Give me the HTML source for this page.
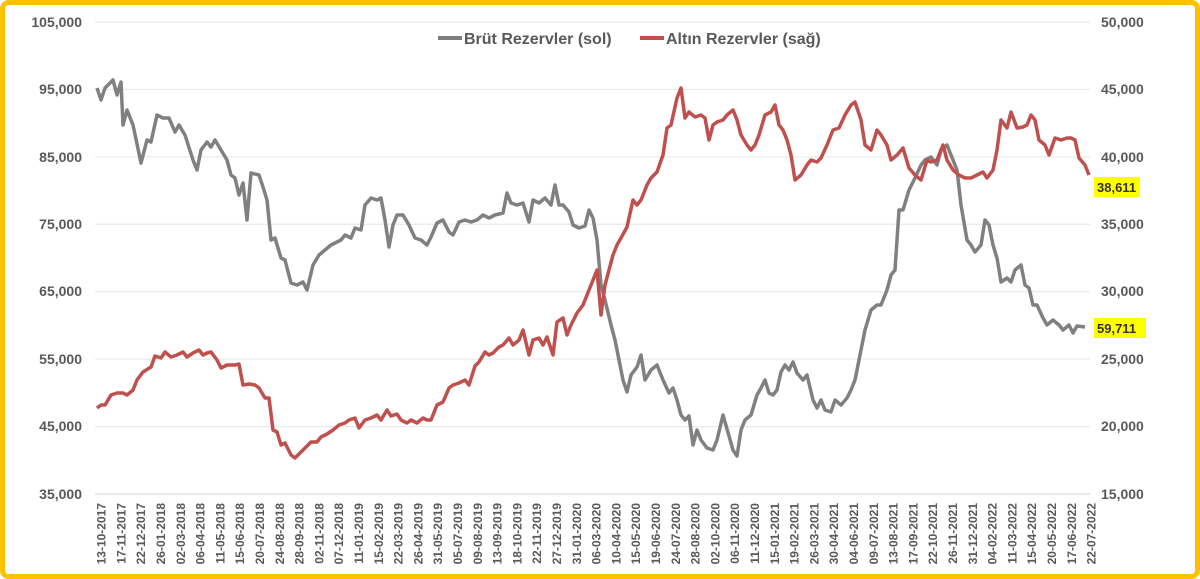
<!DOCTYPE html>
<html><head><meta charset="utf-8"><style>
html,body{margin:0;padding:0;background:#fff;}
svg{display:block;font-family:"Liberation Sans",sans-serif;}
</style></head><body>
<svg width="1200" height="579" viewBox="0 0 1200 579">
<rect x="2.5" y="2.5" width="1195" height="574" rx="6" fill="#fff" stroke="#FFC000" stroke-width="5"/>
<g stroke="#e6e6e6" stroke-width="1">
<line x1="95" x2="1090" y1="22" y2="22"/><line x1="95" x2="1090" y1="89.4" y2="89.4"/>
<line x1="95" x2="1090" y1="156.9" y2="156.9"/><line x1="95" x2="1090" y1="224.3" y2="224.3"/>
<line x1="95" x2="1090" y1="291.7" y2="291.7"/><line x1="95" x2="1090" y1="359.1" y2="359.1"/>
<line x1="95" x2="1090" y1="426.6" y2="426.6"/></g>
<line x1="95" x2="1090" y1="494" y2="494" stroke="#d0d0d0"/>
<g font-size="14" font-weight="bold" fill="#595959" text-anchor="end">
<text x="82" y="27">105,000</text><text x="82" y="94">95,000</text><text x="82" y="162">85,000</text>
<text x="82" y="229">75,000</text><text x="82" y="296">65,000</text><text x="82" y="364">55,000</text>
<text x="82" y="431">45,000</text><text x="82" y="499">35,000</text></g>
<g font-size="14" font-weight="bold" fill="#595959" text-anchor="start">
<text x="1101" y="27">50,000</text><text x="1101" y="94">45,000</text><text x="1101" y="162">40,000</text>
<text x="1101" y="229">35,000</text><text x="1101" y="296">30,000</text><text x="1101" y="364">25,000</text>
<text x="1101" y="431">20,000</text><text x="1101" y="499">15,000</text></g>
<g font-size="12" font-weight="bold" fill="#595959" text-anchor="end">
<text transform="translate(105.6,503) rotate(-90)">13-10-2017</text>
<text transform="translate(125.4,503) rotate(-90)">17-11-2017</text>
<text transform="translate(145.2,503) rotate(-90)">22-12-2017</text>
<text transform="translate(165,503) rotate(-90)">26-01-2018</text>
<text transform="translate(184.8,503) rotate(-90)">02-03-2018</text>
<text transform="translate(204.6,503) rotate(-90)">06-04-2018</text>
<text transform="translate(224.4,503) rotate(-90)">11-05-2018</text>
<text transform="translate(244.2,503) rotate(-90)">15-06-2018</text>
<text transform="translate(264,503) rotate(-90)">20-07-2018</text>
<text transform="translate(283.8,503) rotate(-90)">24-08-2018</text>
<text transform="translate(303.6,503) rotate(-90)">28-09-2018</text>
<text transform="translate(323.4,503) rotate(-90)">02-11-2018</text>
<text transform="translate(343.2,503) rotate(-90)">07-12-2018</text>
<text transform="translate(363,503) rotate(-90)">11-01-2019</text>
<text transform="translate(382.8,503) rotate(-90)">15-02-2019</text>
<text transform="translate(402.6,503) rotate(-90)">22-03-2019</text>
<text transform="translate(422.4,503) rotate(-90)">26-04-2019</text>
<text transform="translate(442.2,503) rotate(-90)">31-05-2019</text>
<text transform="translate(462,503) rotate(-90)">05-07-2019</text>
<text transform="translate(481.8,503) rotate(-90)">09-08-2019</text>
<text transform="translate(501.6,503) rotate(-90)">13-09-2019</text>
<text transform="translate(521.4,503) rotate(-90)">18-10-2019</text>
<text transform="translate(541.2,503) rotate(-90)">22-11-2019</text>
<text transform="translate(561,503) rotate(-90)">27-12-2019</text>
<text transform="translate(580.8,503) rotate(-90)">31-01-2020</text>
<text transform="translate(600.6,503) rotate(-90)">06-03-2020</text>
<text transform="translate(620.4,503) rotate(-90)">10-04-2020</text>
<text transform="translate(640.2,503) rotate(-90)">15-05-2020</text>
<text transform="translate(660,503) rotate(-90)">19-06-2020</text>
<text transform="translate(679.8,503) rotate(-90)">24-07-2020</text>
<text transform="translate(699.6,503) rotate(-90)">28-08-2020</text>
<text transform="translate(719.4,503) rotate(-90)">02-10-2020</text>
<text transform="translate(739.2,503) rotate(-90)">06-11-2020</text>
<text transform="translate(759,503) rotate(-90)">11-12-2020</text>
<text transform="translate(778.8,503) rotate(-90)">15-01-2021</text>
<text transform="translate(798.6,503) rotate(-90)">19-02-2021</text>
<text transform="translate(818.4,503) rotate(-90)">26-03-2021</text>
<text transform="translate(838.2,503) rotate(-90)">30-04-2021</text>
<text transform="translate(858,503) rotate(-90)">04-06-2021</text>
<text transform="translate(877.8,503) rotate(-90)">09-07-2021</text>
<text transform="translate(897.6,503) rotate(-90)">13-08-2021</text>
<text transform="translate(917.4,503) rotate(-90)">17-09-2021</text>
<text transform="translate(937.2,503) rotate(-90)">22-10-2021</text>
<text transform="translate(957,503) rotate(-90)">26-11-2021</text>
<text transform="translate(976.8,503) rotate(-90)">31-12-2021</text>
<text transform="translate(996.6,503) rotate(-90)">04-02-2022</text>
<text transform="translate(1016.4,503) rotate(-90)">11-03-2022</text>
<text transform="translate(1036.2,503) rotate(-90)">15-04-2022</text>
<text transform="translate(1056,503) rotate(-90)">20-05-2022</text>
<text transform="translate(1075.8,503) rotate(-90)">17-06-2022</text>
<text transform="translate(1095.6,503) rotate(-90)">22-07-2022</text>
</g>
<g font-size="16" font-weight="bold" fill="#595959">
<line x1="438" x2="462" y1="38" y2="38" stroke="#7f7f7f" stroke-width="4"/>
<text x="464" y="44">Brüt Rezervler (sol)</text>
<line x1="640" x2="664" y1="38" y2="38" stroke="#c0504d" stroke-width="4"/>
<text x="666" y="44">Altın Rezervler (sağ)</text></g>
<polyline fill="none" stroke="#808080" stroke-width="3.5" stroke-linejoin="round" points="97,88 101,100 105,88 113,80 117,95 121,82 123,125 127,110 133,125 141,163 147,140 151,142 157,115 163,118 169,118 175,132 179,125 185,135 193,160 197,170 201,150 207,142 211,147 215,140 221,150 227,160 231,175 235,178 239,195 243,183 247,220 251,173 259,175 263,187 267,200 271,240 275,238 281,258 285,260 291,283 297,285 303,282 307,290 313,265 319,255 325,250 331,245 337,242 341,240 345,235 351,238 355,228 361,230 365,205 371,198 377,200 381,198 385,220 389,247 393,225 397,215 403,215 409,225 415,238 421,240 427,245 431,237 437,223 443,220 449,232 453,235 459,222 465,220 471,222 477,220 483,215 489,218 495,215 503,213 507,193 511,203 517,205 523,203 529,222 533,200 539,203 545,198 551,205 555,185 559,205 563,205 569,212 573,225 579,228 585,226 589,210 593,218 597,240 601,285 605,300 611,325 615,340 619,360 623,380 627,392 631,375 637,367 641,355 645,380 651,370 657,365 663,380 669,393 673,388 677,400 681,415 685,420 689,416 693,445 697,430 701,440 707,448 713,450 717,440 723,415 729,436 733,450 737,456 741,430 745,420 751,415 757,395 761,388 765,380 769,393 773,395 777,390 781,372 785,365 789,370 793,362 797,373 803,380 807,375 813,400 817,408 821,400 825,410 831,412 835,400 841,405 847,398 851,390 855,380 861,350 865,330 871,310 877,305 881,305 887,290 891,275 895,270 899,210 903,210 909,190 915,178 921,165 925,160 931,157 937,165 941,150 947,145 951,155 957,170 961,205 967,240 971,245 975,252 981,245 985,220 989,225 993,245 997,258 1001,282 1007,278 1011,282 1015,270 1021,265 1025,285 1029,288 1033,305 1037,305 1043,318 1047,325 1053,320 1059,325 1063,330 1069,325 1073,333 1077,326 1085,327"/>
<polyline fill="none" stroke="#c0504d" stroke-width="3.5" stroke-linejoin="round" points="97,408 101,405 105,405 111,395 117,393 123,393 127,395 133,390 137,380 143,372 151,367 155,356 161,358 165,352 171,357 177,355 183,352 187,357 193,353 199,350 203,355 207,353 211,352 217,360 221,368 227,365 235,365 239,364 243,385 249,384 255,385 259,388 265,398 269,398 273,430 277,432 281,445 285,443 291,455 295,458 301,452 307,446 311,442 317,442 321,437 327,434 333,430 339,425 345,423 349,420 355,418 359,428 365,420 371,418 377,415 381,420 387,410 391,416 397,414 401,420 407,423 411,420 417,423 423,418 427,420 431,420 437,405 443,402 449,388 453,385 459,383 465,380 469,385 475,366 479,362 485,352 489,355 493,353 499,347 503,345 509,338 513,345 519,340 523,330 529,355 533,340 539,338 543,345 547,337 553,355 557,322 563,318 567,335 571,325 577,313 583,305 589,290 593,280 597,270 601,315 605,285 609,270 613,255 617,245 621,238 627,227 633,200 637,205 641,200 647,185 651,178 657,172 663,155 667,128 671,125 677,98 681,88 685,118 689,112 695,117 701,115 705,118 709,140 713,125 717,122 723,120 727,115 733,110 737,120 741,135 747,145 751,150 755,145 759,135 765,115 771,112 775,105 779,125 783,130 787,140 791,155 795,180 801,175 807,165 811,160 817,162 821,158 827,145 833,130 839,128 845,115 851,105 855,102 861,120 865,145 871,150 877,130 881,135 887,145 891,160 897,155 903,148 909,168 915,175 921,180 927,160 931,162 937,160 943,145 947,160 953,170 959,175 965,178 971,178 977,175 983,172 987,178 993,170 997,150 1001,120 1007,128 1011,112 1017,128 1023,127 1027,125 1031,115 1035,120 1039,140 1045,145 1049,155 1055,138 1061,140 1067,138 1071,138 1075,140 1079,158 1085,165 1089,175"/>
<rect x="1094" y="177" width="46" height="20" fill="#ffff00"/>
<text x="1097" y="192" font-size="13" font-weight="bold" fill="#333">38,611</text>
<rect x="1094" y="318" width="52" height="20" fill="#ffff00"/>
<text x="1097" y="333" font-size="13" font-weight="bold" fill="#333">59,711</text>
</svg>
</body></html>
